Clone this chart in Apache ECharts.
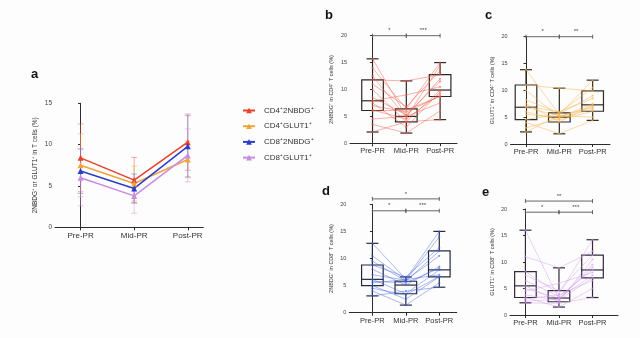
<!DOCTYPE html>
<html><head><meta charset="utf-8">
<script src="https://cdn.jsdelivr.net/npm/echarts@6/dist/echarts.min.js"></script>
<style>html,body{margin:0;padding:0;background:#fdfdfd}#c{width:640px;height:338px}</style>
</head><body><div id="c"></div>
<script>
// ---------- shared ----------
const categories = ['Pre-PR', 'Mid-PR', 'Post-PR'];
const catIndex = [0, 1, 2];

// ---------- panel a (mean ± SD) ----------
const lineNames = ['CD4⁺2NBDG⁺', 'CD4⁺GLUT1⁺', 'CD8⁺2NBDG⁺', 'CD8⁺GLUT1⁺'];
const cd4NbdgMean = [8.4, 5.7, 10.3];
const cd4NbdgSD   = [4.1, 2.75, 3.4];
const cd4GlutMean = [7.5, 5.3, 8.2];
const cd4GlutSD   = [3.8, 2.1, 2.2];
const cd8NbdgMean = [6.8, 4.7, 9.8];
const cd8NbdgSD   = [2.7, 1.75, 3.7];
const cd8GlutMean = [6.0, 3.8, 8.7];
const cd8GlutSD   = [3.4, 2.1, 3.2];

// ---------- panels b-e : box stats [min, Q1, median, Q3, max] per category ----------
const boxB = [[2.1, 6.1, 7.9, 11.8, 15.7], [1.9, 4.0, 5.0, 6.4, 11.6], [4.4, 8.7, 9.9, 12.75, 15.0]];
const boxC = [[2.25, 4.55, 6.85, 11.0, 13.85], [1.9, 4.1, 5.0, 5.8, 10.4], [4.4, 6.1, 7.3, 9.9, 11.9]];
const boxD = [[3.1, 5.0, 6.15, 8.8, 12.8], [1.4, 3.5, 5.1, 5.8, 6.6], [4.7, 6.6, 7.9, 11.4, 15.0]];
const boxE = [[2.3, 3.3, 5.5, 8.2, 16.0], [1.5, 2.5, 3.2, 4.6, 8.9], [3.3, 7.0, 8.5, 11.3, 14.2]];

// ---------- paired subject values [pre, mid, post] ----------
const pairsB = [[15.7,5.0,12.0],[14.0,6.4,15.0],[12.5,4.8,14.5],[11.8,11.6,12.75],[11.0,6.8,13.5],
  [10.0,4.0,9.9],[8.5,5.3,11.5],[7.9,9.0,10.5],[7.5,3.0,9.6],[7.0,5.8,8.8],[6.2,4.5,9.2],
  [6.0,6.2,8.7],[4.5,5.0,7.5],[3.5,1.9,6.0],[2.1,4.0,4.4]];
const pairsC = [[13.85,5.5,11.9],[11.0,10.4,9.9],[10.0,5.0,7.5],[8.2,5.8,10.5],[7.5,4.1,7.3],
  [7.0,6.0,8.5],[6.85,5.2,6.8],[6.0,4.5,6.1],[5.5,5.0,7.0],[4.55,5.6,9.0],[4.0,1.9,4.4],
  [3.0,4.8,6.5],[2.25,5.3,5.0]];
const pairsD = [[12.8,6.2,15.0],[10.5,6.0,14.0],[9.5,5.8,11.4],[8.8,6.6,12.0],[8.0,5.1,8.5],
  [7.0,6.0,10.5],[6.15,3.5,7.9],[5.8,5.5,8.2],[5.5,6.1,7.0],[5.0,2.5,6.6],[4.5,3.3,6.7],
  [4.0,1.4,5.5],[3.1,4.0,4.7]];
const pairsE = [[16.0,3.0,9.0],[11.0,8.9,12.0],[8.2,4.0,14.2],[7.5,4.6,11.3],[6.5,3.5,8.5],
  [5.5,2.5,10.5],[5.0,3.2,7.5],[4.5,6.0,8.0],[3.8,2.8,7.0],[3.3,1.5,5.0],[3.0,3.8,6.5],
  [2.3,2.2,3.3],[2.6,3.0,9.5]];

// ---------- significance brackets [fromCat, toCat, level] + labels ----------
const sigB = [[0, 1, 20], [1, 2, 20]];          const sigBLabels = ['*', '***'];
const sigC = [[0, 1, 20], [1, 2, 20]];          const sigCLabels = ['*', '**'];
const sigD = [[0, 1, 18.8], [1, 2, 18.8], [0, 2, 21.0]]; const sigDLabels = ['*', '***', '*'];
const sigE = [[0, 1, 19.4], [1, 2, 19.4], [0, 2, 21.5]]; const sigELabels = ['*', '***', '**'];

const yTicksA = [0, 5, 10, 15];
const yTicksBox = [0, 5, 10, 15, 20];

// ---------- layout ----------
const FONT = 'Liberation Sans, Arial, sans-serif';
const grids = [
  { left: 55,    top: 103.3, width: 148.3, height: 124 },   // a
  { left: 350,   top: 35.7,  width: 107,   height: 107.6 }, // b
  { left: 510.5, top: 36.7,  width: 99.5,  height: 107.3 }, // c
  { left: 349.3, top: 204.3, width: 107.4, height: 108.4 }, // d
  { left: 510,   top: 209,   width: 108,   height: 106 }    // e
];
const xRanges = [[-0.477, 2.29], [-0.667, 2.5], [-0.465, 2.52], [-0.69, 2.52], [-0.46, 2.76]];
const yNames = ['2NBDG⁺ or GLUT1⁺ in T cells (%)', '2NBDG⁺ in CD4⁺ T cells (%)',
  'GLUT1⁺ in CD4⁺ T cells (%)', '2NBDG⁺ in CD8⁺ T cells (%)', 'GLUT1⁺ in CD8⁺ T cells (%)'];
const nameGaps = [16.5, 15.5, 15.5, 14.5, 14.5];

const axisColor = '#2b2b2b';
const xAxes = grids.map((g, i) => ({
  type: 'value', gridIndex: i, min: xRanges[i][0], max: xRanges[i][1],
  splitLine: { show: false },
  axisLine: { show: true, onZero: false, lineStyle: { color: axisColor, width: 1 } },
  axisTick: { show: true, customValues: catIndex, length: 3, lineStyle: { color: axisColor, width: 1 } },
  axisLabel: { customValues: catIndex, formatter: v => (Number.isInteger(v) && categories[v]) ? categories[v] : '',
    fontSize: i === 0 ? 8 : 7.5, color: '#333', margin: 4, fontFamily: FONT }
}));
const yAxes = grids.map((g, i) => ({
  type: 'value', gridIndex: i, min: 0, max: i === 0 ? 15 : 20, interval: 5,
  splitLine: { show: false },
  axisLine: { show: true, lineStyle: { color: axisColor, width: 1 } },
  axisTick: { show: true, length: 2.5, lineStyle: { color: axisColor, width: 1 } },
  axisLabel: { fontSize: i === 0 ? 6.5 : 5.5, color: '#444', margin: 3, fontFamily: FONT },
  name: yNames[i], nameLocation: 'middle', nameGap: nameGaps[i], nameRotate: 90,
  nameTextStyle: { fontSize: i === 0 ? 6.5 : 5.5, color: '#333', fontFamily: FONT }
}));

// ---------- panel a series ----------
const lineColors = ['#e8402a', '#f2a43a', '#2b3cc8', '#c98ae0'];
const errColors = ['rgba(232,80,60,0.45)', 'rgba(242,170,70,0.5)', 'rgba(60,80,210,0.4)', 'rgba(200,140,225,0.45)'];
const means = [cd4NbdgMean, cd4GlutMean, cd8NbdgMean, cd8GlutMean];
const sds = [cd4NbdgSD, cd4GlutSD, cd8NbdgSD, cd8GlutSD];

const series = [];
means.forEach((m, k) => {
  series.push({
    type: 'custom', xAxisIndex: 0, yAxisIndex: 0, z: 1, silent: true,
    encode: { x: 0, y: 1 },
    data: catIndex.map(c => [c, m[c], sds[k][c]]),
    renderItem: (params, api) => {
      const x = api.value(0), mv = api.value(1), s = api.value(2);
      const t = api.coord([x, mv + s]), b = api.coord([x, mv - s]);
      const st = { stroke: errColors[k], lineWidth: 1 };
      return { type: 'group', children: [
        { type: 'line', shape: { x1: t[0], y1: t[1], x2: b[0], y2: b[1] }, style: st },
        { type: 'line', shape: { x1: t[0] - 3, y1: t[1], x2: t[0] + 3, y2: t[1] }, style: st },
        { type: 'line', shape: { x1: b[0] - 3, y1: b[1], x2: b[0] + 3, y2: b[1] }, style: st }
      ]};
    }
  });
});
means.forEach((m, k) => {
  series.push({
    name: lineNames[k], type: 'line', xAxisIndex: 0, yAxisIndex: 0, z: 3,
    data: catIndex.map(c => [c, m[c]]),
    symbol: 'triangle', symbolSize: 6,
    lineStyle: { color: lineColors[k], width: 1.5 },
    itemStyle: { color: lineColors[k] }
  });
});

// ---------- box panels ----------
const panels = [
  { box: boxB, pairs: pairsB, sig: sigB, lab: sigBLabels, pc: 'rgba(240,90,70,0.6)', bc: '#2e2626' },
  { box: boxC, pairs: pairsC, sig: sigC, lab: sigCLabels, pc: 'rgba(245,175,70,0.6)', bc: '#2e2a24' },
  { box: boxD, pairs: pairsD, sig: sigD, lab: sigDLabels, pc: 'rgba(60,95,225,0.55)', bc: '#262a40' },
  { box: boxE, pairs: pairsE, sig: sigE, lab: sigELabels, pc: 'rgba(205,150,235,0.55)', bc: '#33283a' }
];
panels.forEach((p, j) => {
  const ai = j + 1;
  // boxes
  series.push({
    type: 'custom', xAxisIndex: ai, yAxisIndex: ai, z: 2, silent: true,
    encode: { x: 0, y: [1, 2, 3, 4, 5] },
    data: p.box.map((b, c) => [c].concat(b)),
    renderItem: (params, api) => {
      const x = api.value(0);
      const vmin = api.coord([x, api.value(1)]), q1 = api.coord([x, api.value(2)]),
            med = api.coord([x, api.value(3)]), q3 = api.coord([x, api.value(4)]),
            vmax = api.coord([x, api.value(5)]);
      const hw = 10.8, cw = 6;
      const st = { stroke: p.bc, lineWidth: 1.2, fill: null };
      return { type: 'group', children: [
        { type: 'rect', shape: { x: q3[0] - hw, y: q3[1], width: hw * 2, height: q1[1] - q3[1] }, style: { stroke: p.bc, lineWidth: 1.2, fill: 'none' } },
        { type: 'line', shape: { x1: med[0] - hw, y1: med[1], x2: med[0] + hw, y2: med[1] }, style: st },
        { type: 'line', shape: { x1: vmax[0], y1: vmax[1], x2: q3[0], y2: q3[1] }, style: st },
        { type: 'line', shape: { x1: q1[0], y1: q1[1], x2: vmin[0], y2: vmin[1] }, style: st },
        { type: 'line', shape: { x1: vmax[0] - cw, y1: vmax[1], x2: vmax[0] + cw, y2: vmax[1] }, style: st },
        { type: 'line', shape: { x1: vmin[0] - cw, y1: vmin[1], x2: vmin[0] + cw, y2: vmin[1] }, style: st }
      ]};
    }
  });
  // paired subject lines
  series.push({
    type: 'custom', xAxisIndex: ai, yAxisIndex: ai, z: 3, silent: true,
    encode: { x: 0, y: [0, 1, 2] },
    data: p.pairs,
    renderItem: (params, api) => {
      const pts = [api.coord([0, api.value(0)]), api.coord([1, api.value(1)]), api.coord([2, api.value(2)])];
      const ch = [{ type: 'polyline', shape: { points: pts }, style: { stroke: p.pc, lineWidth: 0.8, fill: null } }];
      pts.forEach(q => ch.push({ type: 'circle', shape: { cx: q[0], cy: q[1], r: 1.1 }, style: { fill: p.pc } }));
      return { type: 'group', children: ch };
    }
  });
  // significance brackets
  series.push({
    type: 'custom', xAxisIndex: ai, yAxisIndex: ai, z: 4, silent: true, clip: false,
    encode: { x: [0, 1], y: 2 },
    data: p.sig,
    renderItem: (params, api) => {
      const a = api.coord([api.value(0), api.value(2)]), b = api.coord([api.value(1), api.value(2)]);
      const st = { stroke: '#555', lineWidth: 0.9 };
      return { type: 'group', children: [
        { type: 'line', shape: { x1: a[0], y1: a[1], x2: b[0], y2: b[1] }, style: st },
        { type: 'line', shape: { x1: a[0], y1: a[1] - 2, x2: a[0], y2: a[1] + 2 }, style: st },
        { type: 'line', shape: { x1: b[0], y1: b[1] - 2, x2: b[0], y2: b[1] + 2 }, style: st },
        { type: 'text', style: { x: (a[0] + b[0]) / 2, y: a[1] - 2, text: p.lab[params.dataIndex],
          fill: '#444', fontSize: 6, fontFamily: FONT, align: 'center', verticalAlign: 'bottom' } }
      ]};
    }
  });
});

const letters = [['a', 36, 76], ['b', 330, 17], ['c', 490, 17], ['d', 327, 193], ['e', 487, 194]];

const chart = echarts.init(document.getElementById('c'), null, { renderer: 'canvas' });
chart.setOption({
  backgroundColor: '#fdfdfd',
  animation: false,
  textStyle: { fontFamily: FONT },
  grid: grids,
  xAxis: xAxes,
  yAxis: yAxes,
  legend: {
    data: lineNames, orient: 'vertical', left: 237, top: 101.5,
    itemWidth: 12, itemHeight: 7, itemGap: 7.7,
    textStyle: { fontSize: 8, color: '#333', fontFamily: FONT, padding: [0, 0, 0, 4] }
  },
  graphic: letters.map(l => ({
    type: 'text', left: l[1] - 5, top: l[2] - 8,
    style: { text: l[0], fontSize: 13, fontWeight: 'bold', fill: '#111', fontFamily: FONT }
  })),
  series: series
});
</script></body></html>
